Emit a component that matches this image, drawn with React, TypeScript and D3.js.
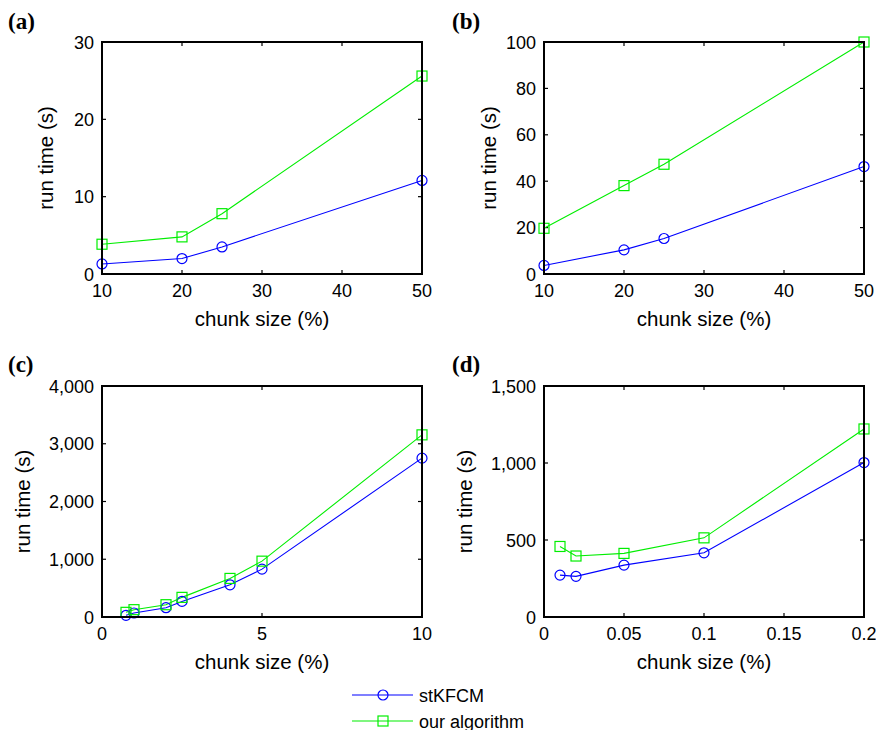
import React from "react";
import * as d3 from "d3";

const seriesNames = ["stKFCM", "our algorithm"];
const seriesColors = ["#0000ff", "#00ee00"];

const aX = [10, 20, 25, 50];
const aSt = [1.3, 2.0, 3.5, 12.1];
const aOurs = [3.85, 4.8, 7.8, 25.6];
const aXTicks = [10, 20, 30, 40, 50];
const aYTicks = [0, 10, 20, 30];

const bX = [10, 20, 25, 50];
const bSt = [3.7, 10.4, 15.3, 46.3];
const bOurs = [19.7, 38.1, 47.3, 100];
const bXTicks = [10, 20, 30, 40, 50];
const bYTicks = [0, 20, 40, 60, 80, 100];

const cX = [0.75, 1, 2, 2.5, 4, 5, 10];
const cSt = [29, 69, 161, 270, 558, 829, 2751];
const cOurs = [81, 127, 213, 340, 668, 967, 3154];
const cXTicks = [0, 5, 10];
const cYTicks = [0, 1000, 2000, 3000, 4000];

const dX = [0.01, 0.02, 0.05, 0.1, 0.2];
const dSt = [272, 264, 337, 417, 1003];
const dOurs = [458, 396, 413, 514, 1221];
const dXTicks = [0, 0.05, 0.1, 0.15, 0.2];
const dYTicks = [0, 500, 1000, 1500];

const FONT = "'Liberation Sans', Arial, Helvetica, sans-serif";

type PanelProps = {
  label: string;
  left: number;
  top: number;
  width: number;
  height: number;
  xs: number[];
  st: number[];
  ours: number[];
  xTicks: number[];
  yTicks: number[];
  xFmt: (v: number) => string;
  yFmt: (v: number) => string;
  yTitleOffset: number;
  labelX: number;
  labelY: number;
};

function Panel(p: PanelProps) {
  const x = d3
    .scaleLinear()
    .domain([p.xTicks[0], p.xTicks[p.xTicks.length - 1]])
    .range([p.left, p.left + p.width]);
  const y = d3
    .scaleLinear()
    .domain([p.yTicks[0], p.yTicks[p.yTicks.length - 1]])
    .range([p.top + p.height, p.top]);
  const line = d3
    .line<[number, number]>()
    .x((d) => x(d[0]))
    .y((d) => y(d[1]));
  const stPts: [number, number][] = p.xs.map((v, i) => [v, p.st[i]]);
  const oPts: [number, number][] = p.xs.map((v, i) => [v, p.ours[i]]);
  const tl = 4;
  const bottom = p.top + p.height;
  const right = p.left + p.width;
  return (
    <g>
      <text
        x={p.labelX}
        y={p.labelY}
        fontFamily="'Liberation Serif', 'Times New Roman', serif"
        fontWeight="bold"
        fontSize={23}
      >
        {p.label}
      </text>
      {p.xTicks.map((t, i) => (
        <g key={"xt" + i}>
          <line x1={x(t)} x2={x(t)} y1={bottom} y2={bottom - tl} stroke="#000" strokeWidth={1.2} />
          <line x1={x(t)} x2={x(t)} y1={p.top} y2={p.top + tl} stroke="#000" strokeWidth={1.2} />
          <text
            x={x(t)}
            y={bottom + 23}
            textAnchor="middle"
            fontFamily={FONT}
            fontSize={18}
            fill="#000"
          >
            {p.xFmt(t)}
          </text>
        </g>
      ))}
      {p.yTicks.map((t, i) => (
        <g key={"yt" + i}>
          <line x1={p.left} x2={p.left + tl} y1={y(t)} y2={y(t)} stroke="#000" strokeWidth={1.2} />
          <line x1={right} x2={right - tl} y1={y(t)} y2={y(t)} stroke="#000" strokeWidth={1.2} />
          <text
            x={p.left - 8}
            y={y(t) + 6.5}
            textAnchor="end"
            fontFamily={FONT}
            fontSize={18}
            fill="#000"
          >
            {p.yFmt(t)}
          </text>
        </g>
      ))}
      <path d={line(stPts) || ""} fill="none" stroke={seriesColors[0]} strokeWidth={1.1} />
      <path d={line(oPts) || ""} fill="none" stroke={seriesColors[1]} strokeWidth={1.1} />
      {stPts.map((d, i) => (
        <circle
          key={"c" + i}
          cx={x(d[0])}
          cy={y(d[1])}
          r={5}
          fill="none"
          stroke={seriesColors[0]}
          strokeWidth={1.2}
        />
      ))}
      {oPts.map((d, i) => (
        <rect
          key={"s" + i}
          x={x(d[0]) - 5}
          y={y(d[1]) - 5}
          width={10}
          height={10}
          fill="none"
          stroke={seriesColors[1]}
          strokeWidth={1.2}
        />
      ))}
      <rect
        x={p.left}
        y={p.top}
        width={p.width}
        height={p.height}
        fill="none"
        stroke="#000"
        strokeWidth={2}
      />
      <text
        x={p.left + p.width / 2}
        y={bottom + 52}
        textAnchor="middle"
        fontFamily={FONT}
        fontSize={20.5}
        fill="#000"
      >
        chunk size (%)
      </text>
      <text
        transform={`translate(${p.left - p.yTitleOffset},${p.top + p.height / 2}) rotate(-90)`}
        textAnchor="middle"
        fontFamily={FONT}
        fontSize={20.5}
        fill="#000"
      >
        run time (s)
      </text>
    </g>
  );
}

const plain = (v: number) => String(v);
const comma = d3.format(",");

export default function App() {
  const W = 876;
  const H = 730;
  return (
    <svg
      width={W}
      height={H}
      style={{ position: "absolute", left: 0, top: 0, background: "#fff" }}
    >
      <rect x={0} y={0} width={W} height={H} fill="#fff" />
      <Panel label="(a)" left={102} top={42} width={320} height={232} xs={aX} st={aSt} ours={aOurs}
        xTicks={aXTicks} yTicks={aYTicks} xFmt={plain} yFmt={plain} yTitleOffset={49} labelX={8} labelY={29} />
      <Panel label="(b)" left={544} top={42} width={320} height={232} xs={bX} st={bSt} ours={bOurs}
        xTicks={bXTicks} yTicks={bYTicks} xFmt={plain} yFmt={plain} yTitleOffset={48} labelX={452} labelY={29} />
      <Panel label="(c)" left={102} top={386} width={320} height={231} xs={cX} st={cSt} ours={cOurs}
        xTicks={cXTicks} yTicks={cYTicks} xFmt={plain} yFmt={comma} yTitleOffset={72} labelX={8} labelY={372} />
      <Panel label="(d)" left={544} top={386} width={320} height={231} xs={dX} st={dSt} ours={dOurs}
        xTicks={dXTicks} yTicks={dYTicks} xFmt={plain} yFmt={comma} yTitleOffset={72} labelX={452} labelY={372} />
      {seriesNames.map((name, i) => {
        const ly = 695 + i * 26;
        return (
          <g key={name}>
            <line x1={352} x2={413} y1={ly} y2={ly} stroke={seriesColors[i]} strokeWidth={1.1} />
            {i === 0 ? (
              <circle cx={383} cy={ly} r={5} fill="none" stroke={seriesColors[i]} strokeWidth={1.2} />
            ) : (
              <rect x={378} y={ly - 5} width={10} height={10} fill="none" stroke={seriesColors[i]} strokeWidth={1.2} />
            )}
            <text x={419} y={ly + 6.5} fontFamily={FONT} fontSize={18} fill="#000">
              {name}
            </text>
          </g>
        );
      })}
    </svg>
  );
}
